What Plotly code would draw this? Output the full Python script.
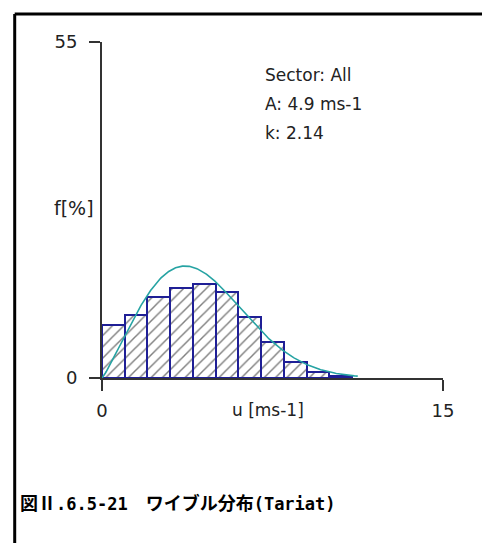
import numpy as np
import plotly.graph_objects as go

# Wind speed frequency histogram (1 m/s bins) and fitted Weibull curve
bin_left = [0, 1, 2, 3, 4, 5, 6, 7, 8, 9, 10]
freq_pct = [8.6, 10.3, 13.2, 14.7, 15.4, 14.0, 10.0, 5.9, 2.7, 1.0, 0.4]

sector = "All"
weibull_A = 4.9    # scale, m/s
weibull_k = 2.14   # shape

x_ticks = [0, 15]
y_ticks = [0, 55]
x_range = [0, 15]
y_range = [0, 55]

# Weibull probability density (in %) from the fitted parameters
u = np.linspace(0, 11.25, 300)
pdf_pct = 100 * (weibull_k / weibull_A) * (u / weibull_A) ** (weibull_k - 1) * np.exp(-(u / weibull_A) ** weibull_k)

fig = go.Figure()

fig.add_trace(go.Bar(
    x=[b + 0.5 for b in bin_left],
    y=freq_pct,
    width=1,
    marker=dict(
        color="white",
        line=dict(color="#1f1f96", width=2),
        pattern=dict(shape="/", fgcolor="black", bgcolor="white", size=8, solidity=0.18),
    ),
    hoverinfo="skip",
))

fig.add_trace(go.Scatter(
    x=u, y=pdf_pct, mode="lines",
    line=dict(color="#26a3a3", width=1.6),
    hoverinfo="skip",
))

txt_font = dict(family="DejaVu Sans", size=17, color="#222222")
tick_font = dict(family="DejaVu Sans", size=18, color="#222222")

axis_common = dict(
    showgrid=False, zeroline=False, showline=True,
    linecolor="#333333", linewidth=2,
    ticks="outside", ticklen=11, tickwidth=2, tickcolor="#333333",
    tickfont=tick_font, fixedrange=True,
)

fig.update_layout(
    width=482, height=543,
    margin=dict(l=102, r=39, t=42, b=165),
    paper_bgcolor="white", plot_bgcolor="white",
    showlegend=False,
    bargap=0,
    xaxis=dict(range=x_range, tickvals=x_ticks, ticktext=[str(v) for v in x_ticks],
               ticklabelstandoff=4, **axis_common),
    yaxis=dict(range=y_range, tickvals=y_ticks, ticktext=[str(v) for v in y_ticks],
               ticklabelstandoff=8, **axis_common),
)

# frame around the figure (left and top edges)
fig.add_shape(type="line", xref="paper", yref="paper", x0=-0.256, x1=-0.256, y0=-1.0, y1=1.0833,
              line=dict(color="black", width=3))
fig.add_shape(type="line", xref="paper", yref="paper", x0=-0.256, x1=1.3, y0=1.0833, y1=1.0833,
              line=dict(color="black", width=3))

# statistics box
info_lines = [f"Sector: {sector}", f"A: {weibull_A} ms-1", f"k: {weibull_k}"]
for i, line in enumerate(info_lines):
    fig.add_annotation(x=7.08, y=49.6 - i * 4.75, xref="x", yref="y", text=line,
                       showarrow=False, xanchor="left", yanchor="middle", font=txt_font)

# axis labels
fig.add_annotation(x=0, y=0.5, xref="paper", yref="paper", text="f[%]", showarrow=False,
                   xanchor="right", yanchor="middle", xshift=-6, yshift=2,
                   font=dict(family="DejaVu Sans", size=19, color="#222222"))
fig.add_annotation(x=7.3, y=0, xref="x", yref="paper", text="u [ms-1]", showarrow=False,
                   xanchor="center", yanchor="middle", yshift=-32, font=txt_font)

# figure caption: full-width glyphs in a CJK gothic, half-width glyphs in a monospace face
cjk = "font-family:'Noto Sans CJK JP';font-size:18px"
mono = "font-family:'DejaVu Sans Mono';font-size:17px"
caption = (f"<b><span style=\"{cjk}\">図Ⅱ</span>"
           f"<span style=\"{mono}\">.6.5-21</span>"
           f"<span style=\"{cjk}\">　ワイブル分布</span>"
           f"<span style=\"{mono}\">(Tariat)</span></b>")
fig.add_annotation(x=-0.245, y=-0.369, xref="paper", yref="paper",
                   text=caption, showarrow=False,
                   xanchor="left", yanchor="middle",
                   font=dict(family="Noto Sans CJK JP", size=18, color="black"))

fig.write_html("out.html")
